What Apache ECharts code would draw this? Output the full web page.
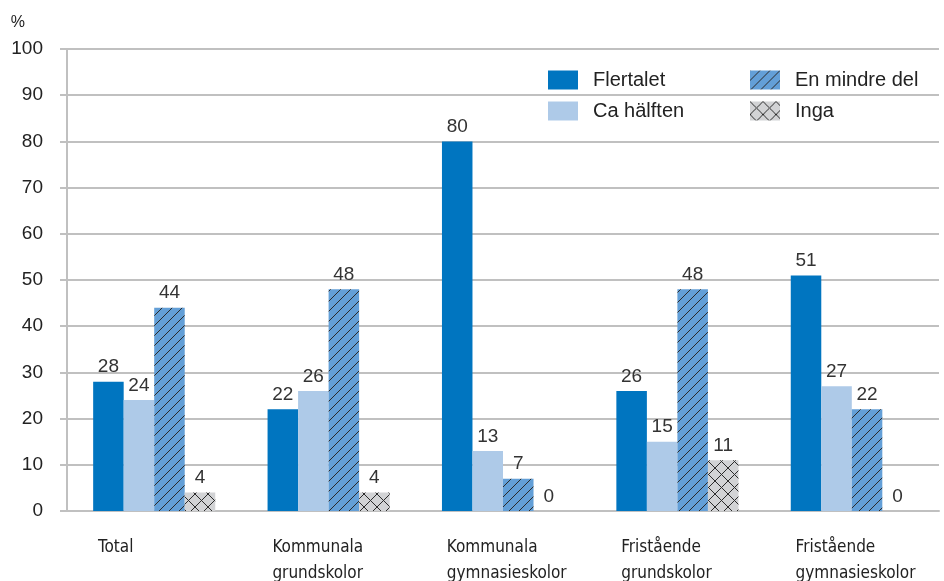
<!DOCTYPE html>
<html>
<head>
<meta charset="utf-8">
<script src="https://cdn.jsdelivr.net/npm/echarts@6/dist/echarts.min.js"></script>
<style>
html,body{margin:0;padding:0;background:#fff;}
#chart{width:944px;height:581px;}
</style>
</head>
<body>
<div id="chart"></div>
<script>
// kategorier och värden (procent)
var categories = ["Total", "Kommunala\ngrundskolor", "Kommunala\ngymnasieskolor", "Fristående\ngrundskolor", "Fristående\ngymnasieskolor"];
var flertalet = [28, 22, 80, 26, 51];
var caHalften = [24, 26, 13, 15, 27];
var enMindreDel = [44, 48, 7, 48, 22];
var inga = [4, 4, 0, 11, 0];
var yTicks = [0, 10, 20, 30, 40, 50, 60, 70, 80, 90, 100];

var numFont = "Liberation Sans, Arial, sans-serif";
var catFont = "Liberation Sans Narrow, DejaVu Sans Condensed, sans-serif";

// mönster för staplarna
function makePattern(bg, cross){
	var c = document.createElement("canvas");
	var s = cross ? 13 : 10;
	c.width = s; c.height = s;
	var g = c.getContext("2d");
	g.fillStyle = bg;
	g.fillRect(0, 0, s, s);
	g.strokeStyle = "#2b2b2b";
	g.lineWidth = 1;
	g.beginPath();
	g.moveTo(-1, s + 1); g.lineTo(s + 1, -1);
	if(cross){
		g.moveTo(-1, -1); g.lineTo(s + 1, s + 1);
	}
	g.stroke();
	return {image: c, repeat: "repeat"};
}
var diagPattern = makePattern("#639fd7", false);
var crossPattern = makePattern("#d2d3d5", true);

function labelOpt(){
	return {
		show: true,
		position: "top",
		distance: 5,
		color: "#333",
		fontSize: 19,
		fontFamily: numFont
	};
}

function bar(name, data, color){
	return {
		name: name,
		type: "bar",
		data: data,
		barGap: 0,
		barCategoryGap: "30%",
		itemStyle: {color: color},
		label: labelOpt()
	};
}

var legendText = {fontSize: 20, color: "#222", fontFamily: numFont, padding: [0, 0, 0, 10]};

var myChart = echarts.init(document.getElementById("chart"));
myChart.setOption({
	animation: false,
	backgroundColor: "#fff",
	grid: {left: 67, right: 5, top: 49, bottom: 70, outerBoundsMode: "none", containLabel: false},
	legend: [{
		left: 543, top: 65,
		orient: "vertical",
		icon: "rect",
		itemWidth: 30, itemHeight: 19, itemGap: 11,
		data: ["Flertalet", "Ca hälften"],
		textStyle: legendText
	}, {
		left: 745, top: 65,
		orient: "vertical",
		icon: "rect",
		itemWidth: 30, itemHeight: 19, itemGap: 11,
		data: ["En mindre del", "Inga"],
		textStyle: legendText
	}],
	xAxis: [{
		type: "category",
		data: categories,
		axisLine: {lineStyle: {color: "#c0c0c0", width: 2}},
		axisTick: {show: false},
		axisLabel: {show: false}
	}, {
		// hjälpaxel för vänsterställda kategorietiketter
		type: "value",
		min: 0, max: 5, interval: 1,
		position: "bottom",
		axisLine: {show: false},
		axisTick: {show: false},
		splitLine: {show: false},
		axisLabel: {
			margin: 24,
			align: "left",
			padding: [0, 0, 0, 31],
			lineHeight: 26,
			fontSize: 17,
			color: "#222",
			fontFamily: catFont,
			formatter: function(v){ return categories[v] || ""; }
		}
	}],
	yAxis: {
		type: "value",
		min: 0, max: 100, interval: 10,
		name: "%",
		nameGap: 18,
		nameTextStyle: {align: "right", padding: [0, 42, 0, 0], fontSize: 16, color: "#222", fontFamily: numFont},
		axisLine: {show: true, lineStyle: {color: "#c0c0c0", width: 2}},
		axisTick: {show: true, inside: false, length: 7, lineStyle: {color: "#c0c0c0", width: 2}},
		axisLabel: {
			margin: 24,
			fontSize: 19,
			color: "#222",
			fontFamily: numFont,
			formatter: function(v){ return yTicks.indexOf(v) >= 0 ? String(v) : ""; }
		},
		splitLine: {lineStyle: {color: "#c0c0c0", width: 2}}
	},
	series: [
		bar("Flertalet", flertalet, "#0075c0"),
		bar("Ca hälften", caHalften, "#aecae8"),
		bar("En mindre del", enMindreDel, diagPattern),
		bar("Inga", inga, crossPattern)
	]
});
</script>
</body>
</html>
